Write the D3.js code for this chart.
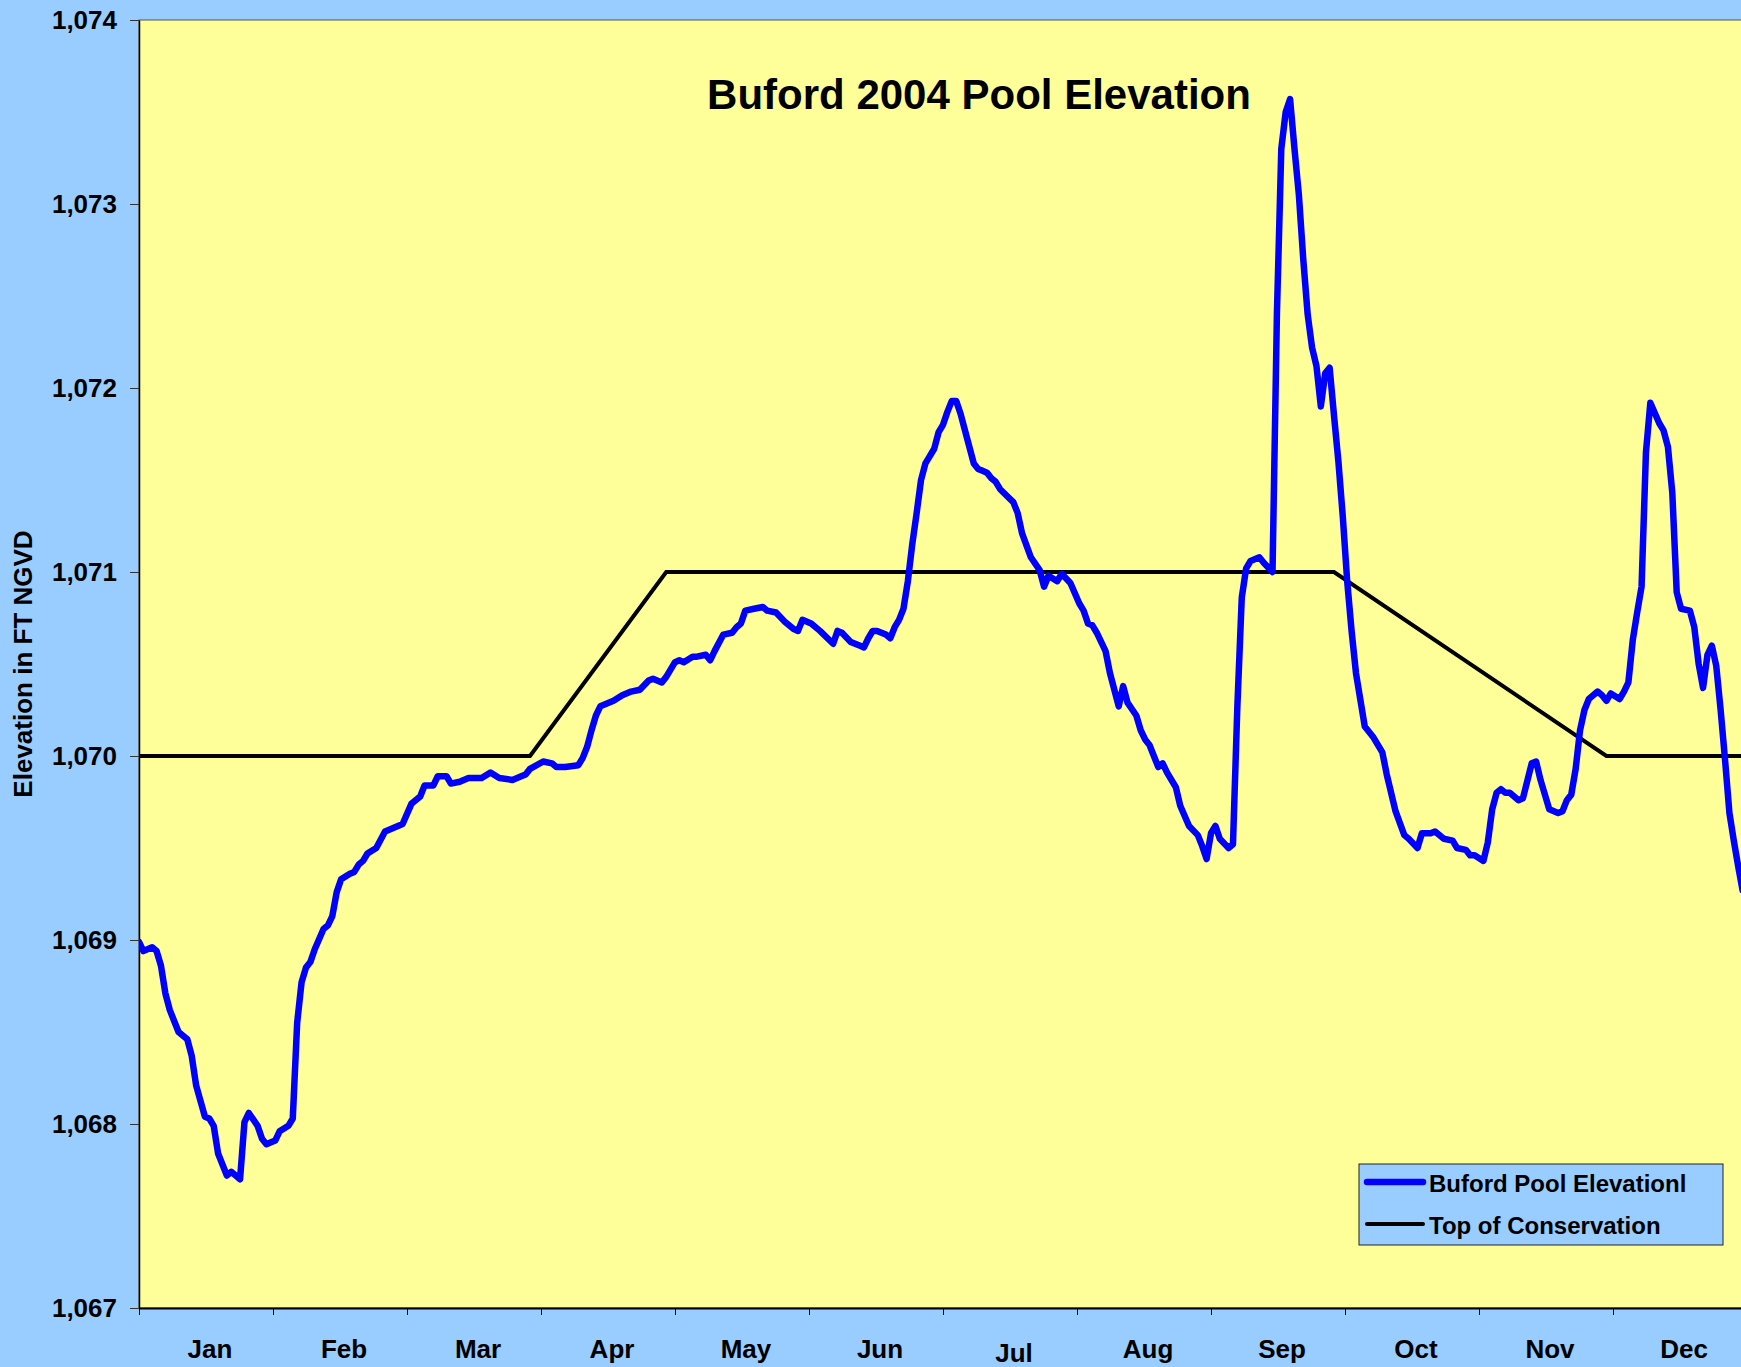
<!DOCTYPE html>
<html lang="en">
<head>
<meta charset="UTF-8">
<title>Buford 2004 Pool Elevation</title>
<script src="https://d3js.org/d3.v7.min.js"></script>
<style>
  body { margin: 0; background: #99CCFF; }
  svg { display: block; font-family: "Liberation Sans", Arial, sans-serif; font-weight: bold; }
</style>
</head>
<body>
<div id="chart"></div>
<script>
// month labels along the bottom
var months = ["Jan", "Feb", "Mar", "Apr", "May", "Jun", "Jul", "Aug", "Sep", "Oct", "Nov", "Dec"];
var yTicks = [1067, 1068, 1069, 1070, 1071, 1072, 1073, 1074];

// pool elevation, day of year (2004) and feet
var poolDays = [0,1,3,4,5,6,7,9,11,12,13,15,16,17,18,20,21,23,24,25,27,28,29,31,32,34,35,36,37,38,39,40,42,43,44,45,46,48,49,50,51,52,54,56,58,60,62,64,65,67,68,70,71,73,75,78,80,82,85,87,88,89,92,94,95,97,100,101,102,103,104,105,108,110,112,114,116,117,119,120,122,123,124,126,127,129,130,131,133,135,136,137,138,140,142,143,145,147,149,150,151,153,155,158,159,160,162,164,165,166,167,168,170,171,172,173,174,175,176,177,178,179,180,181,182,183,184,185,186,187,188,190,191,192,193,194,195,196,199,200,201,203,205,206,207,209,210,212,214,215,216,217,218,220,221,223,224,225,227,228,229,230,232,233,234,236,237,239,241,242,243,244,245,246,248,249,250,251,252,253,255,256,258,259,260,261,262,263,264,265,266,267,268,269,270,271,272,273,274,275,276,277,279,281,283,284,286,288,289,291,292,294,295,297,299,300,302,303,304,306,307,308,309,310,311,312,314,315,317,318,319,321,323,324,325,326,327,328,329,330,332,333,334,335,337,338,339,340,341,342,343,344,346,347,348,349,350,351,353,354,355,356,357,358,359,360,361,362,363,364,365];
var poolElev = [1068.99,1068.94,1068.96,1068.94,1068.86,1068.71,1068.62,1068.50,1068.46,1068.37,1068.21,1068.04,1068.03,1067.99,1067.84,1067.72,1067.74,1067.70,1068.01,1068.06,1067.99,1067.92,1067.89,1067.91,1067.96,1067.99,1068.03,1068.55,1068.77,1068.85,1068.88,1068.95,1069.06,1069.08,1069.13,1069.26,1069.33,1069.36,1069.37,1069.41,1069.43,1069.47,1069.50,1069.59,1069.61,1069.63,1069.74,1069.78,1069.84,1069.84,1069.89,1069.89,1069.85,1069.86,1069.88,1069.88,1069.91,1069.88,1069.87,1069.89,1069.90,1069.93,1069.97,1069.96,1069.94,1069.94,1069.95,1069.99,1070.05,1070.14,1070.22,1070.27,1070.30,1070.33,1070.35,1070.36,1070.41,1070.42,1070.40,1070.43,1070.51,1070.52,1070.51,1070.54,1070.54,1070.55,1070.52,1070.57,1070.66,1070.67,1070.70,1070.72,1070.79,1070.80,1070.81,1070.79,1070.78,1070.73,1070.69,1070.68,1070.74,1070.72,1070.68,1070.61,1070.68,1070.67,1070.62,1070.60,1070.59,1070.64,1070.68,1070.68,1070.66,1070.64,1070.70,1070.74,1070.80,1070.95,1071.15,1071.32,1071.50,1071.59,1071.63,1071.67,1071.76,1071.80,1071.87,1071.93,1071.93,1071.86,1071.77,1071.59,1071.56,1071.55,1071.54,1071.51,1071.49,1071.45,1071.38,1071.32,1071.21,1071.08,1071.01,1070.92,1070.98,1070.95,1070.99,1070.94,1070.83,1070.79,1070.72,1070.71,1070.67,1070.57,1070.45,1070.27,1070.38,1070.29,1070.22,1070.14,1070.09,1070.06,1069.94,1069.96,1069.91,1069.83,1069.73,1069.62,1069.57,1069.51,1069.44,1069.58,1069.62,1069.55,1069.50,1069.52,1070.27,1070.86,1071.02,1071.06,1071.08,1071.05,1071.00,1072.40,1073.30,1073.50,1073.57,1073.30,1073.05,1072.70,1072.40,1072.22,1072.12,1071.90,1072.08,1072.11,1071.85,1071.60,1071.30,1070.95,1070.68,1070.45,1070.16,1070.10,1070.02,1069.90,1069.70,1069.57,1069.55,1069.50,1069.58,1069.58,1069.59,1069.55,1069.54,1069.50,1069.49,1069.46,1069.46,1069.43,1069.53,1069.71,1069.80,1069.82,1069.80,1069.80,1069.76,1069.77,1069.96,1069.97,1069.87,1069.71,1069.69,1069.70,1069.76,1069.79,1069.93,1070.14,1070.25,1070.31,1070.35,1070.33,1070.30,1070.34,1070.31,1070.35,1070.40,1070.63,1070.78,1070.92,1071.65,1071.92,1071.81,1071.77,1071.68,1071.43,1070.89,1070.80,1070.79,1070.70,1070.50,1070.37,1070.55,1070.60,1070.49,1070.25,1069.98,1069.69,1069.54,1069.40,1069.27];

// top of conservation pool guide curve
var consDays = [0, 89, 120, 272, 334, 366];
var consElev = [1070, 1070, 1071, 1071, 1070, 1070];

var W = 1741, H = 1367;
var margin = {left: 139, top: 20, right: 1747, bottom: 1308};

var svg = d3.select("#chart").append("svg")
    .attr("width", W)
    .attr("height", H);

svg.append("rect").attr("width", W).attr("height", H).attr("fill", "#99CCFF");

var x = d3.scaleLinear().domain([0, 366]).range([margin.left, margin.right]);
var y = d3.scaleLinear().domain([1067, 1074]).range([margin.bottom, margin.top]);

svg.append("defs").append("clipPath").attr("id", "plotclip")
    .append("rect")
    .attr("x", margin.left).attr("y", margin.top - 5)
    .attr("width", margin.right - margin.left).attr("height", margin.bottom - margin.top + 10);

// plot area
svg.append("rect")
    .attr("x", margin.left).attr("y", margin.top)
    .attr("width", margin.right - margin.left).attr("height", margin.bottom - margin.top)
    .attr("fill", "#FFFF99")
    .attr("stroke", "#555")
    .attr("stroke-width", 1);

// y axis
var yAxis = svg.append("g")
    .attr("transform", "translate(" + margin.left + ",0)")
    .call(d3.axisLeft(y).tickValues(yTicks).tickFormat(d3.format(",")).tickSize(9).tickSizeOuter(0).tickPadding(13));
yAxis.select(".domain").attr("stroke", "#000").attr("stroke-width", 1.5);
yAxis.selectAll(".tick line").attr("stroke", "#333");
yAxis.selectAll("text")
    .attr("font-size", 26).attr("font-weight", "bold")
    .attr("font-family", "Liberation Sans, Arial, sans-serif")
    .attr("fill", "#000");

// x axis, ticks only
var monthTicks = d3.range(13).map(function(i) { return i * 30.5; });
var xAxis = svg.append("g")
    .attr("transform", "translate(0," + margin.bottom + ")")
    .call(d3.axisBottom(x).tickValues(monthTicks).tickFormat("").tickSize(7).tickSizeOuter(0));
xAxis.select(".domain").attr("stroke", "#000").attr("stroke-width", 2);
xAxis.selectAll(".tick line").attr("stroke", "#000");

svg.append("g").selectAll("text")
    .data(months)
    .enter().append("text")
    .attr("x", function(d, i) { return x((i + 0.5) * 30.5) + 4; })
    .attr("y", function(d) { return d === "Jul" ? 1362 : 1358; })
    .attr("text-anchor", "middle")
    .attr("font-size", 26)
    .text(function(d) { return d; });

// axis title
svg.append("text")
    .attr("transform", "translate(32,664) rotate(-90)")
    .attr("text-anchor", "middle")
    .attr("font-size", 26)
    .text("Elevation in FT NGVD");

// chart title
svg.append("text")
    .attr("x", 979).attr("y", 109)
    .attr("text-anchor", "middle")
    .attr("font-size", 42)
    .text("Buford 2004 Pool Elevation");

var plot = svg.append("g").attr("clip-path", "url(#plotclip)");

var consLine = d3.line()
    .x(function(d, i) { return x(consDays[i]); })
    .y(function(d) { return y(d); });

plot.append("path")
    .datum(consElev)
    .attr("fill", "none")
    .attr("stroke", "#000")
    .attr("stroke-width", 4)
    .attr("d", consLine);

var poolLine = d3.line()
    .x(function(d, i) { return x(poolDays[i]); })
    .y(function(d) { return y(d); });

plot.append("path")
    .datum(poolElev)
    .attr("fill", "none")
    .attr("stroke", "#0000FF")
    .attr("stroke-width", 6.5)
    .attr("stroke-linejoin", "round")
    .attr("stroke-linecap", "round")
    .attr("d", poolLine);

// legend
var legend = svg.append("g");
legend.append("rect")
    .attr("x", 1359).attr("y", 1164)
    .attr("width", 364).attr("height", 81)
    .attr("fill", "#99CCFF")
    .attr("stroke", "#222")
    .attr("stroke-width", 1);

var legendItems = [
    {name: "Buford Pool Elevationl", color: "#0000FF", width: 6.5},
    {name: "Top of Conservation", color: "#000", width: 4}
];
legendItems.forEach(function(item, i) {
    var ly = 1182 + i * 42;
    legend.append("line")
        .attr("x1", 1367).attr("x2", 1423)
        .attr("y1", ly).attr("y2", ly)
        .attr("stroke", item.color)
        .attr("stroke-width", item.width)
        .attr("stroke-linecap", "round");
    legend.append("text")
        .attr("x", 1429).attr("y", ly + 10)
        .attr("font-size", 24)
        .text(item.name);
});
</script>
</body>
</html>
